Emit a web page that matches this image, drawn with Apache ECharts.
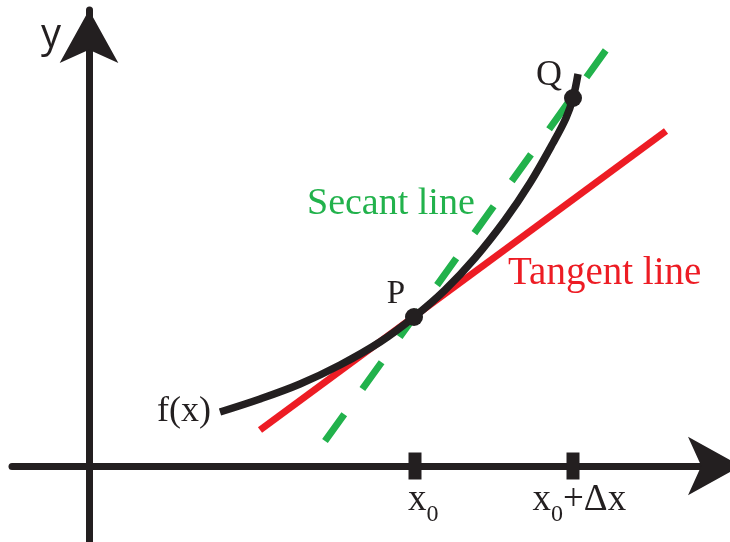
<!DOCTYPE html>
<html>
<head>
<meta charset="utf-8">
<script src="https://cdn.jsdelivr.net/npm/echarts@6/dist/echarts.min.js"></script>
<style>html,body{margin:0;padding:0;background:#fff}#c{width:730px;height:542px}</style>
</head>
<body>
<div id="c"></div>
<script>
// Data (math coordinates: origin at the axes' crossing)
const curveX = [131, 171, 211, 251, 291, 325, 356, 386, 416, 441, 464, 477, 484, 489];
const curveY = [54, 67, 82, 101, 124, 149, 176, 208, 246, 283, 323, 348, 368, 392];
const tangentX = [171, 577];
const tangentY = [36, 335];
const secantX = [236, 517];
const secantY = [25, 416];
const pointX = [325, 484];
const pointY = [149, 368];
const pointNames = ['P', 'Q'];
const tickX = [326, 484];
const tickNames = ['{a|x}{b|0}', '{a|x}{b|0}{a|+Δx}'];
const curveName = 'f(x)';
const secantName = 'Secant line';
const tangentName = 'Tangent line';

const INK = '#231f20', RED = '#ed1c24', GREEN = '#22b24c';
const SERIF = '"Liberation Serif", "DejaVu Serif", serif';

const chart = echarts.init(document.getElementById('c'), null, {renderer: 'canvas'});

const curveData = curveX.map((x, i) => {
  const item = {value: [x, curveY[i]]};
  if (i === 0) {
    item.label = {show: true, formatter: curveName, position: 'left', distance: 9,
      fontFamily: SERIF, fontSize: 36, color: INK};
  }
  return item;
});

const tickLabelShift = [-0.5, -34];

const option = {
  animation: false,
  grid: {left: 12, right: 0, top: 10, bottom: 0, containLabel: false},
  xAxis: {
    type: 'value', min: -77, max: 641,
    axisLine: {onZero: true, symbol: ['none', 'arrow'], symbolSize: [44, 53], symbolOffset: [0, 11],
      lineStyle: {color: INK, width: 7}},
    axisTick: {show: false}, axisLabel: {show: false}, splitLine: {show: false}
  },
  yAxis: {
    type: 'value', min: -76, max: 456,
    name: 'y', nameLocation: 'end', nameGap: -46,
    nameTextStyle: {fontFamily: '"Open Sans", "Noto Sans", sans-serif', fontSize: 40,
      color: INK, align: 'right', verticalAlign: 'bottom', padding: [0, 28, 0, 0]},
    axisLine: {onZero: true, symbol: ['none', 'arrow'], symbolSize: [44, 53],
      lineStyle: {color: INK, width: 7}},
    axisTick: {show: false}, axisLabel: {show: false}, splitLine: {show: false}
  },
  series: [
    {
      type: 'line', name: secantName, data: secantX.map((x, i) => [x, secantY[i]]),
      showSymbol: false, symbol: 'none', z: 2,
      lineStyle: {color: GREEN, width: 7, type: [33, 31], cap: 'butt'}
    },
    {
      type: 'line', name: tangentName, data: tangentX.map((x, i) => [x, tangentY[i]]),
      showSymbol: false, symbol: 'none', z: 3,
      lineStyle: {color: RED, width: 7, cap: 'butt'}
    },
    {
      type: 'line', name: curveName, data: curveData, smooth: 0.35,
      showSymbol: true, symbol: 'circle', symbolSize: 0.01, z: 4,
      itemStyle: {color: INK},
      lineStyle: {color: INK, width: 7.5, cap: 'butt'}
    },
    {
      type: 'scatter', data: pointX.map((x, i) => ({
        value: [x, pointY[i]],
        label: i === 0
          ? {show: true, formatter: pointNames[i], position: [0, 3], align: 'right', verticalAlign: 'bottom',
             fontFamily: SERIF, fontSize: 33, color: INK}
          : {show: true, formatter: pointNames[i], position: [-2, 5], align: 'right', verticalAlign: 'bottom',
             fontFamily: SERIF, fontSize: 36, color: INK}
      })),
      symbol: 'circle', symbolSize: 18, z: 6, itemStyle: {color: INK, opacity: 1}
    },
    {
      type: 'scatter', data: tickX.map((x, i) => ({
        value: [x, 0],
        label: {show: true, formatter: tickNames[i], position: [tickLabelShift[i], 20.5], align: 'left', verticalAlign: 'top',
          rich: {
            a: {fontFamily: SERIF, fontSize: 37, lineHeight: 54, verticalAlign: 'middle', color: INK},
            b: {fontFamily: SERIF, fontSize: 24, lineHeight: 24, verticalAlign: 'bottom', color: INK}
          }}
      })),
      symbol: 'rect', symbolSize: [13, 27], z: 6, itemStyle: {color: INK, opacity: 1}
    }
  ],
  graphic: [
    {type: 'text', left: 307, top: 185, z: 10,
      style: {text: secantName, fill: GREEN, font: '38px ' + SERIF}},
    {type: 'text', left: 508, top: 254, z: 10,
      style: {text: tangentName, fill: RED, font: '39px ' + SERIF}}
  ]
};
chart.setOption(option);
</script>
</body>
</html>
